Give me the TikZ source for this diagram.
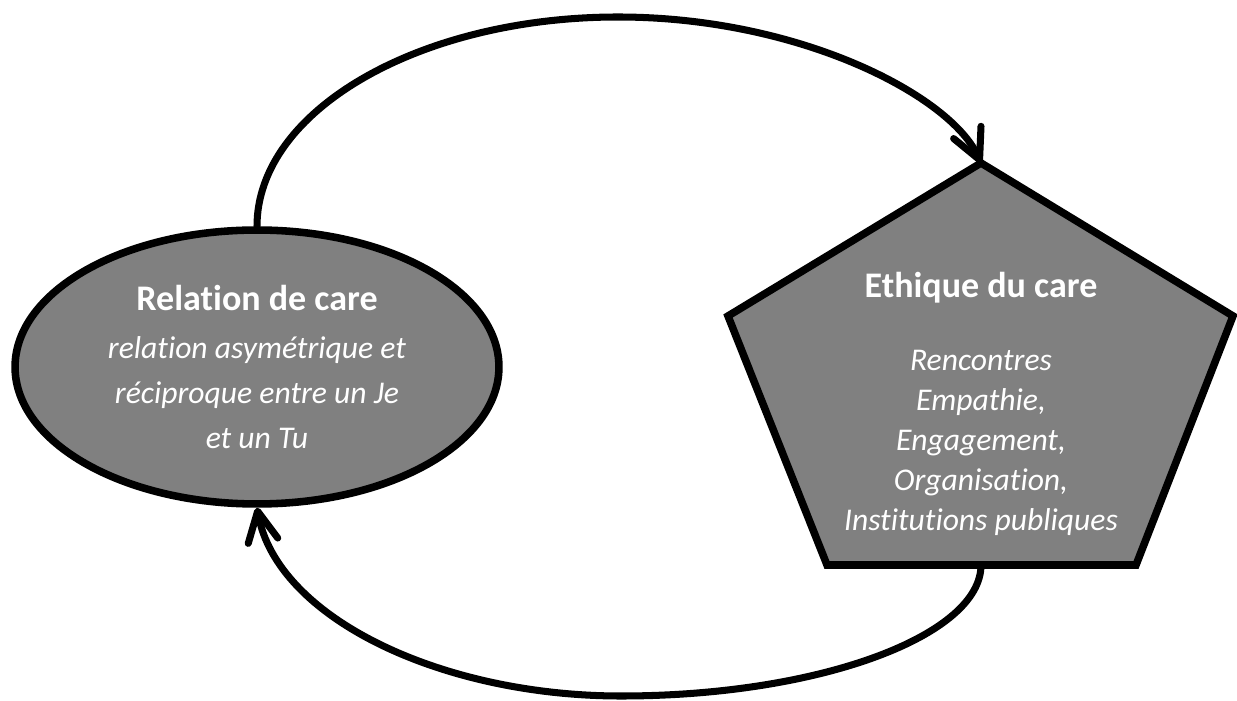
\documentclass[tikz,border=0pt]{standalone}
\usepackage{fontspec}
\setmainfont[Ligatures=NoCommon]{Carlito}
\usepackage{tikz}
\usetikzlibrary{arrows.meta,shapes.geometric}
\definecolor{caregray}{RGB}{128,128,128}
\newcommand{\caretitle}[1]{{\fontsize{20.5}{25.5}\selectfont\bfseries #1}}

\begin{document}
\begin{tikzpicture}
        [
            x=0.02cm, y=0.02cm,
            care/.style={ellipse, draw, fill=caregray, line width=4.3pt, text=white, align=center, inner sep=0pt,
                minimum width=9.68cm, minimum height=5.48cm, font={\fontsize{18}{25.5}\selectfont}},
            ethic/.style={text=white, align=center, inner sep=0pt, font={\fontsize{18}{22.7}\selectfont}},
            flow/.style={line width=4pt, line cap=round, -{Straight Barb[round, length=0.6cm, width=0.6cm]}},
        ]
            \useasboundingbox (0,0) rectangle (1237,700);

            \node[care] (R) at (257,333) {\caretitle{Relation de care}\\[2pt]
                \textit{relation asymétrique et}\\ \textit{réciproque entre un Je}\\ \textit{et un Tu}};

            \coordinate (E-top) at (981,537);
            \coordinate (E-right) at (1233,384);
            \coordinate (E-br) at (1136,135);
            \coordinate (E-bot) at (981,135);
            \coordinate (E-bl) at (827,135);
            \coordinate (E-left) at (728,384);
            \draw[line width=4.3pt, fill=caregray] (E-top) -- (E-right) -- (E-br) -- (E-bl) -- (E-left) -- cycle;
            \node[ethic] (E) at (981,296) {\caretitle{Ethique du care}\\[18.7pt]
                \textit{Rencontres}\\ \textit{Empathie,}\\ \textit{Engagement,}\\ \textit{Organisation,}\\ \textit{Institutions publiques}};

            \coordinate (apex) at (618,683);
            \coordinate (base) at (621,4);
            \draw[flow] (R.north) .. controls +(0,116) and +(-198,0) .. (apex)
                .. controls +(182,0) and +(-30,67) .. (E-top);
            \draw[flow] (E-bot) .. controls +(0,-70) and +(200,0) .. (base)
                .. controls +(-180,0) and +(20,-110) .. (R.south);
        \end{tikzpicture}
\end{document}
